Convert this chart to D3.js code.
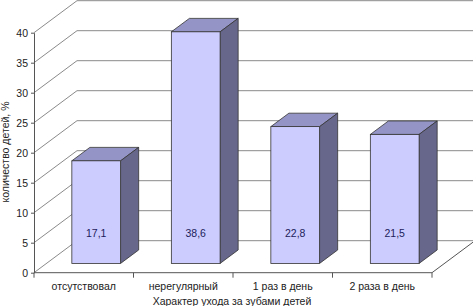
<!DOCTYPE html>
<html><head><meta charset="utf-8">
<script src="https://cdn.jsdelivr.net/npm/d3@7"></script>
<style>
body{margin:0;background:#fff;}
svg{display:block;font-family:"Liberation Sans",Arial,sans-serif;}
</style></head>
<body><svg id="c" width="473" height="306"></svg>
<script>
const categories = ["отсутствовал","нерегулярный","1 раз в день","2 раза в день"];
const values = [17.1, 38.6, 22.8, 21.5];
const valueLabels = ["17,1","38,6","22,8","21,5"];
const yTicks = [0,5,10,15,20,25,30,35,40];
const yTitle = "количество детей, %";
const xTitle = "Характер ухода за зубами детей";

const svg = d3.select("#c");
const X0 = 34, X1 = 432, Y0 = 272.7, Ytop = 32.7;
const DX = 43, DY = -32;        // depth vector
const f1 = 0.29, f2 = 0.71;     // bar depth fractions

const x = d3.scaleBand().domain(categories).range([X0, X1]);
const y = d3.scaleLinear().domain([0, 40]).range([Y0, Ytop]);

// back wall gridlines
const grid = svg.append("g");
yTicks.forEach(v => {
  grid.append("line").attr("x1", X0 + DX).attr("x2", X1 + DX)
    .attr("y1", y(v) + DY).attr("y2", y(v) + DY)
    .attr("stroke", "#8a8a8a").attr("stroke-width", 1);
  grid.append("line").attr("x1", X0).attr("x2", X0 + DX)
    .attr("y1", y(v)).attr("y2", y(v) + DY)
    .attr("stroke", "#8a8a8a").attr("stroke-width", 1);
});
// floor front and right edges
svg.append("path")
  .attr("d", `M${X0},${Y0}H${X1}L${X1 + DX},${Y0 + DY}`)
  .attr("fill", "none").attr("stroke", "#555").attr("stroke-width", 1);
// category ticks
categories.concat([null]).forEach((c, i) => {
  const xx = c ? x(c) : X1;
  svg.append("line").attr("x1", xx).attr("x2", xx).attr("y1", Y0).attr("y2", Y0 + 5)
    .attr("stroke", "#555");
});

// y axis
const yAxis = d3.axisLeft(y).tickValues(yTicks).tickSize(3).tickSizeOuter(0).tickPadding(3);
const ga = svg.append("g").attr("transform", `translate(${X0},0)`).call(yAxis);
ga.select(".domain").attr("stroke", "#555");
ga.selectAll(".tick line").attr("stroke", "#555");
ga.selectAll(".tick text").attr("font-size", 10.5).attr("fill", "#222")
  .attr("font-family", "Liberation Sans, Arial, sans-serif");

// bars
const bw = x.bandwidth() * 0.49;
const ddx = DX * (f2 - f1), ddy = DY * (f2 - f1);
const bars = svg.append("g");
categories.forEach((c, i) => {
  const bx = x(c) + (x.bandwidth() - bw) / 2 + DX * f1;
  const yt = y(values[i]) + DY * f1;
  const yb = y(0) + DY * f1;
  bars.append("path")
    .attr("d", `M${bx},${yt}L${bx + ddx},${yt + ddy}H${bx + bw + ddx}L${bx + bw},${yt}Z`)
    .attr("fill", "#9494c6").attr("stroke", "#333").attr("stroke-width", 0.8);
  bars.append("path")
    .attr("d", `M${bx + bw},${yt}L${bx + bw + ddx},${yt + ddy}V${yb + ddy}L${bx + bw},${yb}Z`)
    .attr("fill", "#67678c").attr("stroke", "#333").attr("stroke-width", 0.8);
  bars.append("rect").attr("x", bx).attr("y", yt).attr("width", bw).attr("height", yb - yt)
    .attr("fill", "#ccccff").attr("stroke", "#333").attr("stroke-width", 0.8);
  bars.append("text").attr("x", bx + bw / 2).attr("y", y(5) + DY * f1)
    .attr("dy", "0.35em").attr("text-anchor", "middle")
    .attr("font-size", 10.5).attr("fill", "#1c1c5a").text(valueLabels[i]);
});

// category labels
svg.append("g").selectAll("text").data(categories).join("text")
  .attr("x", d => x(d) + x.bandwidth() / 2).attr("y", 286.7).attr("dy", "0.35em")
  .attr("text-anchor", "middle").attr("font-size", 10.5).attr("fill", "#222").text(d => d);

svg.append("text").attr("x", 232).attr("y", 301.5).attr("dy", "0.35em")
  .attr("text-anchor", "middle").attr("font-size", 10.5).attr("fill", "#222").text(xTitle);

svg.append("text").attr("transform", "translate(9,152) rotate(-90)")
  .attr("text-anchor", "middle").attr("font-size", 10.5).attr("fill", "#222").text(yTitle);
</script>
</body></html>
